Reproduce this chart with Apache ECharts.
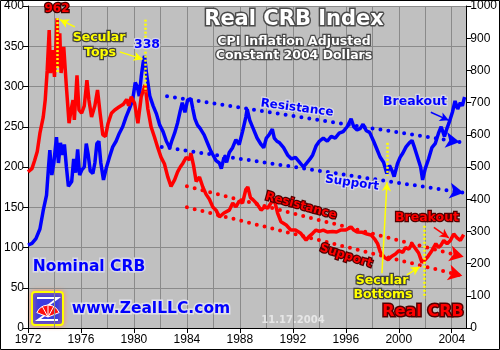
<!DOCTYPE html>
<html><head><meta charset="utf-8">
<script src="https://cdn.jsdelivr.net/npm/echarts@6/dist/echarts.min.js"></script>
<style>html,body{margin:0;padding:0;background:#fff}#c{width:500px;height:350px}</style>
</head><body><div id="c"></div>
<script>
// ---- data ----
const blueYears = [1972.0,1972.3,1972.6,1972.9,1973.15,1973.4,1973.55,1973.65,1973.8,1973.95,1974.15,1974.3,1974.45,1974.6,1974.75,1974.9,1975.05,1975.3,1975.45,1975.6,1975.75,1975.9,1976.05,1976.25,1976.4,1976.55,1976.7,1976.9,1977.05,1977.2,1977.35,1977.5,1977.7,1977.9,1978.15,1978.4,1978.65,1978.9,1979.15,1979.4,1979.65,1979.9,1980.1,1980.25,1980.4,1980.55,1980.7,1980.8,1980.95,1981.2,1981.45,1981.7,1981.95,1982.2,1982.45,1982.7,1982.85,1983.07,1983.3,1983.5,1983.65,1983.85,1984.05,1984.3,1984.45,1984.6,1984.8,1985.0,1985.3,1985.6,1985.8,1986.0,1986.2,1986.45,1986.6,1986.8,1987.0,1987.2,1987.45,1987.7,1987.95,1988.2,1988.45,1988.55,1988.75,1989.0,1989.3,1989.6,1989.8,1990.0,1990.2,1990.45,1990.6,1990.8,1991.0,1991.3,1991.6,1991.9,1992.2,1992.5,1992.8,1993.0,1993.3,1993.5,1993.75,1994.0,1994.3,1994.6,1994.9,1995.2,1995.5,1995.8,1996.1,1996.4,1996.6,1996.85,1997.1,1997.3,1997.55,1997.8,1998.1,1998.35,1998.6,1998.85,1999.1,1999.3,1999.5,1999.65,1999.9,2000.1,2000.3,2000.55,2000.8,2001.0,2001.15,2001.4,2001.65,2001.8,2002.0,2002.25,2002.5,2002.75,2003.0,2003.2,2003.45,2003.6,2003.8,2004.05,2004.25,2004.45,2004.65,2004.8,2004.97];
const blueValues = [103,105,111,123,146,165,200,221,190,205,237,205,230,215,228,200,176,182,210,193,222,190,196,200,229,215,195,192,205,229,232,205,184,198,212,225,232,242,250,262,272,283,305,300,288,312,330,338,316,288,276,266,252,244,232,224,232,242,255,270,280,268,283,285,272,260,252,248,240,228,220,214,208,205,198,212,206,218,224,234,228,244,262,272,258,248,236,228,224,236,240,247,236,232,230,224,215,210,212,206,200,204,210,215,226,232,236,232,238,236,242,244,250,260,250,246,248,253,245,243,232,222,212,206,192,202,195,188,204,212,217,225,230,233,226,213,200,184,198,210,224,229,242,250,238,246,255,268,282,272,280,276,287];
const redYears = [1972.0,1972.3,1972.5,1972.7,1972.9,1973.15,1973.3,1973.45,1973.6,1973.7,1973.85,1974.0,1974.2,1974.3,1974.4,1974.5,1974.7,1974.9,1975.1,1975.25,1975.4,1975.5,1975.7,1975.85,1976.05,1976.25,1976.45,1976.6,1976.8,1977.05,1977.25,1977.45,1977.65,1977.85,1978.05,1978.3,1978.55,1978.9,1979.2,1979.45,1979.6,1979.8,1980.05,1980.3,1980.55,1980.85,1981.05,1981.3,1981.55,1981.8,1982.05,1982.3,1982.55,1982.8,1983.07,1983.3,1983.5,1983.7,1983.95,1984.2,1984.3,1984.5,1984.7,1984.95,1985.2,1985.45,1985.7,1985.95,1986.2,1986.46,1986.8,1987.2,1987.46,1987.7,1987.96,1988.2,1988.45,1988.6,1988.8,1989.0,1989.3,1989.6,1989.86,1990.1,1990.35,1990.6,1990.85,1991.1,1991.5,1991.85,1992.2,1992.6,1993.0,1993.2,1993.5,1993.75,1994.0,1994.3,1994.6,1995.0,1995.3,1995.6,1996.0,1996.4,1996.6,1996.85,1997.25,1997.6,1997.9,1998.2,1998.4,1998.6,1998.9,1999.2,1999.45,1999.75,2000.0,2000.3,2000.5,2000.76,2001.0,2001.2,2001.5,2001.75,2002.0,2002.2,2002.5,2002.8,2003.0,2003.2,2003.4,2003.65,2003.9,2004.15,2004.4,2004.65,2004.9];
const redValues = [485,495,520,548,605,655,708,800,925,792,863,780,962,811,915,792,873,749,636,677,708,646,785,677,667,690,770,708,655,690,739,665,600,595,636,667,677,687,695,710,690,718,698,636,718,755,680,624,593,560,530,510,470,440,460,485,500,512,530,522,543,505,455,469,438,415,400,376,366,345,357,366,388,376,395,388,430,438,405,398,385,366,376,372,388,398,357,330,320,304,304,294,273,283,294,304,300,304,298,300,298,304,304,314,304,298,297,292,289,275,262,236,220,212,222,230,240,235,250,245,262,250,233,204,212,222,240,262,250,258,272,262,272,292,280,272,290];
// trend channels: [startYear, startValue], [endYear, endValue]
const blueResistance = [[1982.5, 288], [2004.6, 231]];
const blueSupport = [[1982.1, 225], [2004.9, 168]];
const redResistance = [[1984.0, 440], [2004.9, 221]];
const redSupport = [[1984.0, 375], [2004.8, 162]];
// yellow markers (left-axis units)
const secularMarkers = [[1974.18, 385, 317], [1980.85, 383, 293], [1999.11, 230, 189], [2001.9, 127, 37]];
const yellowArrows = [[[1975.54, 374], [1974.41, 383]], [[1978.93, 343], [1980.66, 334]], [[1998.73, 68], [1999.11, 181]], [[2000.61, 66], [2001.59, 76]]];
const blueBreakoutArrow = [[2002.42, 268], [2003.78, 258]];
const redBreakoutArrow = [[2002.65, 125], [2003.78, 112]];

const zip = (xs, ys) => xs.map((x, i) => [x, ys[i]]);
const dotLine = (c) => ({ color: c, width: 4, type: [0, 8], cap: 'round', opacity: 1 });
const chan = (pts, c) => [
  { coord: pts[0], symbol: 'none', lineStyle: dotLine(c) },
  { coord: pts[1], symbol: 'arrow', symbolSize: [12, 14], itemStyle: { color: c } }
];
const arrowLine = (pts, c, w) => [
  { coord: pts[0], symbol: 'none', lineStyle: { color: c, width: w, type: 'solid' } },
  { coord: pts[1], symbol: 'arrow', symbolSize: [7, 9], itemStyle: { color: c } }
];

const axisFont = { fontFamily: '"Liberation Sans", Arial, sans-serif', fontSize: 12, color: '#000' };

const chart = echarts.init(document.getElementById('c'), null, { renderer: 'canvas' });

const yellowML = [];
secularMarkers.forEach(m => yellowML.push([
  { coord: [m[0], m[1]], symbol: 'none', lineStyle: { color: '#ffff00', width: 2.5, type: [2, 2] } },
  { coord: [m[0], m[2]], symbol: 'none' }
]));
yellowArrows.forEach(a => yellowML.push(arrowLine(a, '#ffff00', 1.5)));
yellowML.push(arrowLine(blueBreakoutArrow, '#0000ff', 1.5));
yellowML.push(arrowLine(redBreakoutArrow, '#ff0000', 1.5));

const T = (text, x, y, size, fill, stroke, lw, extra) => Object.assign({
  type: 'text', x, y, z: 100,
  style: { text, font: 'bold ' + size + 'px "DejaVu Sans", Verdana, sans-serif', fill, stroke, lineWidth: lw, align: 'center', verticalAlign: 'middle' }
}, extra || {});

chart.setOption({
  animation: false,
  backgroundColor: '#ffffff',
  grid: { left: 28, right: 32, top: 6, bottom: 22, show: true, backgroundColor: '#c0c0c0', borderWidth: 0 },
  xAxis: [
    { type: 'value', min: 1972, max: 2005.1, interval: 4,
      axisLine: { show: true, lineStyle: { color: '#000', width: 1 } },
      axisTick: { show: true, length: 5, lineStyle: { color: '#000' } },
      axisLabel: Object.assign({ margin: 6, formatter: v => (Math.abs(v % 4) < 1e-6 ? String(v) : ''), showMaxLabel: false }, axisFont),
      splitLine: { show: false } },
    { type: 'value', min: 1972, max: 2005.1, interval: 2, position: 'bottom',
      axisLine: { show: false }, axisTick: { show: false }, axisLabel: { show: false },
      splitLine: { show: true, lineStyle: { color: '#8a8a8a', width: 1 } } }
  ],
  yAxis: [
    { type: 'value', min: 0, max: 400, interval: 50, position: 'left',
      axisLine: { show: true, lineStyle: { color: '#000', width: 1 } },
      axisTick: { show: true, length: 5, lineStyle: { color: '#000' } },
      axisLabel: Object.assign({ margin: 4, formatter: v => String(v) }, axisFont),
      splitLine: { show: true, lineStyle: { color: '#8a8a8a', width: 1 } } },
    { type: 'value', min: 0, max: 1000, interval: 100, position: 'right',
      axisLine: { show: true, lineStyle: { color: '#000', width: 1 } },
      axisTick: { show: true, length: 5, lineStyle: { color: '#000' } },
      axisLabel: Object.assign({ margin: 4, formatter: v => String(v) }, axisFont),
      splitLine: { show: false } }
  ],
  series: [
    { name: 'Nominal CRB', type: 'line', xAxisIndex: 0, yAxisIndex: 0, data: zip(blueYears, blueValues),
      showSymbol: false, z: 2, lineStyle: { color: '#0000ff', width: 3.5 }, itemStyle: { color: '#0000ff' },
      markLine: { silent: true, animation: false, label: { show: false }, data: [chan(blueResistance, '#0000ff'), chan(blueSupport, '#0000ff')] } },
    { name: 'Real CRB', type: 'line', xAxisIndex: 0, yAxisIndex: 1, data: zip(redYears, redValues),
      showSymbol: false, z: 3, lineStyle: { color: '#ff0000', width: 3.5 }, itemStyle: { color: '#ff0000' },
      markLine: { silent: true, animation: false, label: { show: false }, data: [chan(redResistance, '#ff0000'), chan(redSupport, '#ff0000')] } },
    { name: 'markers', type: 'line', xAxisIndex: 0, yAxisIndex: 0, data: [], z: 5,
      markLine: { silent: true, animation: false, label: { show: false }, data: yellowML } }
  ],
  graphic: [
    { type: 'rect', shape: { x: 0.5, y: 0.5, width: 499, height: 349 }, style: { fill: 'none', stroke: '#000', lineWidth: 1 }, z: 200 },
    T('Real CRB Index', 294, 20, 21, '#ffffff', '#4a4a4a', 3),
    T('CPI Inflation Adjusted', 294, 42, 12.5, '#ffffff', '#4a4a4a', 2.5),
    T('Constant 2004 Dollars', 294, 56, 12.5, '#ffffff', '#4a4a4a', 2.5),
    T('962', 57, 9, 12, '#ff0000', '#400000', 2.5),
    T('338', 147, 45, 12.5, '#0000ff', '#d8d8e8', 2.5),
    T('Secular', 99, 38, 12.5, '#ffff00', '#404040', 2.5),
    T('Tops', 100, 53, 12.5, '#ffff00', '#404040', 2.5),
    T('Resistance', 297, 108, 12, '#0000ff', '#d8d8e8', 2.5, { rotation: -0.13 }),
    T('Support', 352, 183, 12, '#0000ff', '#d8d8e8', 2.5, { rotation: -0.14 }),
    T('Breakout', 415, 102, 12.5, '#0000ff', '#d8d8e8', 2.5),
    T('Resistance', 301, 206, 12, '#ff0000', '#500000', 2.5, { rotation: -0.27 }),
    T('Support', 346, 256, 12, '#ff0000', '#500000', 2.5, { rotation: -0.31 }),
    T('Breakout', 427, 218, 12.5, '#ff0000', '#500000', 2.5),
    T('Secular', 382, 281, 12.5, '#ffff00', '#404040', 2.5),
    T('Bottoms', 383, 295, 12.5, '#ffff00', '#404040', 2.5),
    T('Nominal CRB', 89, 267, 15.5, '#0000ff', '#d8d8e8', 3),
    T('www.ZealLLC.com', 151, 309, 15.5, '#0000ff', '#e0e0e8', 3),
    T('Real CRB', 423, 312, 16, '#ff0000', '#500000', 3),
    T('11.17.2004', 293, 320, 10, '#e6e6e6', null, 0),
    { type: 'group', x: 32, y: 292, z: 100, children: [
      { type: 'rect', shape: { x: 0, y: 0, width: 31, height: 33, r: 3 }, style: { fill: '#3c3ce0', stroke: '#ffff00', lineWidth: 2, shadowBlur: 5, shadowColor: '#ff9060' } },
      { type: 'polyline', shape: { points: [[5, 6], [26, 6], [10, 18]] }, style: { stroke: '#ffffff', lineWidth: 2, fill: null } },
      { type: 'polyline', shape: { points: [[20, 18], [6, 28], [26, 28]] }, style: { stroke: '#ffffff', lineWidth: 2, fill: null } },
      { type: 'sector', shape: { cx: 16, cy: 25, r0: 0, r: 12, startAngle: Math.PI * 1.12, endAngle: Math.PI * 1.88 }, style: { fill: '#ff1010', stroke: '#ffffff', lineWidth: 1 } },
      { type: 'line', shape: { x1: 16, y1: 25, x2: 10, y2: 14 }, style: { stroke: '#fff', lineWidth: 1 } },
      { type: 'line', shape: { x1: 16, y1: 25, x2: 16, y2: 13 }, style: { stroke: '#fff', lineWidth: 1 } },
      { type: 'line', shape: { x1: 16, y1: 25, x2: 22, y2: 14 }, style: { stroke: '#fff', lineWidth: 1 } }
    ] }
  ]
});
</script></body></html>
